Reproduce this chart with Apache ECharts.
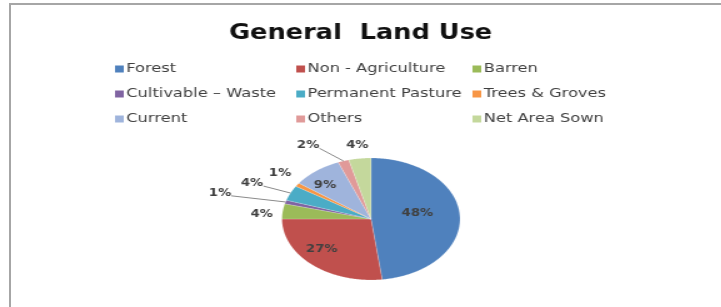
<!DOCTYPE html>
<html lang="en">
<head>
<meta charset="UTF-8" />
<title>General Land Use</title>
<script src="https://cdn.jsdelivr.net/npm/echarts@6/dist/echarts.min.js"></script>
<style>
  html, body { margin: 0; padding: 0; background: #fff; overflow: hidden; }
  #frame { position: absolute; left: 9px; top: 3px; width: 720px; height: 310px;
           border-left: 2px solid #a6a6a6; border-top: 2px solid #a6a6a6; }
  /* the source picture is stretched sideways, so the chart is drawn narrow and widened */
  #main { position: absolute; left: 0; top: 0; width: 577px; height: 307px;
          transform: scaleX(1.25); transform-origin: 0 0; }
</style>
</head>
<body>
<div id="frame"></div>
<div id="main"></div>
<script>
// data
var categories = ['Forest', 'Non - Agriculture', 'Barren', 'Cultivable \u2013 Waste',
  'Permanent Pasture', 'Trees & Groves', 'Current', 'Others', 'Net Area Sown'];
var shares = [48, 27, 4, 1, 4, 1, 9, 2, 4];
var colors = ['#4f81bd', '#c0504d', '#9bbb59', '#8064a2', '#4bacc6', '#f79646',
  '#9fb4dc', '#e09a99', '#c4d89c'];

// label placement per slice: [radius factor, angle shift in degrees]
var labelPlace = [[0.53, -7], [0.74, 7], [1.23, -3.5], [1.75, -2], [1.46, -1.4],
  [1.27, 2.2], [0.76, -5], [1.40, -12.3], [1.22, 0]];

// ellipse pie geometry (in the narrow, unstretched space)
var cx = 296.8, cy = 219, rx = 71.2, ry = 61;
var total = shares.reduce(function (a, b) { return a + b; }, 0);

function ptAt(deg, r) {
  var a = deg * Math.PI / 180;
  return [cx + rx * r * Math.sin(a), cy - ry * r * Math.cos(a)];
}

function renderSlice(params, api) {
  var idx = params.seriesIndex;
  var before = 0;
  for (var i = 0; i < idx; i++) before += shares[i];
  var start = before / total * 360;
  var end = (before + api.value(0)) / total * 360;
  var pts = [[cx, cy]];
  var n = Math.max(2, Math.ceil((end - start) / 0.5));
  for (var k = 0; k <= n; k++) pts.push(ptAt(start + (end - start) * k / n, 1));

  var mid = (start + end) / 2;
  var lp = labelPlace[idx];
  var pos = ptAt(mid + lp[1], lp[0]);
  var children = [{
    type: 'polygon',
    shape: { points: pts },
    style: { fill: colors[idx], stroke: 'rgba(255,255,255,0.35)', lineWidth: 0.5 }
  }];
  if (lp[0] > 1.3) {
    var edge = ptAt(mid, 1);
    children.push({
      type: 'polyline',
      shape: { points: [[pos[0] + 9, pos[1] + 3], edge] },
      style: { stroke: '#8a8a8a', lineWidth: 1, fill: null }
    });
  }
  children.push({
    type: 'text',
    style: {
      text: Math.round(api.value(0) / total * 100) + '%',
      x: pos[0], y: pos[1],
      align: 'center', verticalAlign: 'middle',
      fontFamily: 'DejaVu Sans', fontSize: 10.5, fontWeight: 'bold',
      fill: '#404040'
    }
  });
  return { type: 'group', children: children };
}

var series = categories.map(function (name, i) {
  return {
    type: 'custom',
    name: name,
    coordinateSystem: 'none',
    itemStyle: { color: colors[i] },
    data: [shares[i]],
    renderItem: renderSlice
  };
});

function legendCol(left, names) {
  return {
    orient: 'vertical',
    left: left, top: 57,
    icon: 'rect', itemWidth: 7, itemHeight: 7, itemGap: 11,
    selectedMode: false,
    data: names,
    textStyle: { color: '#404040', fontSize: 13, fontFamily: 'DejaVu Sans', lineHeight: 14, padding: [0, 0, 0, -3] }
  };
}

var myChart = echarts.init(document.getElementById('main'), null, { renderer: 'canvas' });
myChart.setOption({
  animation: false,
  backgroundColor: 'transparent',
  title: {
    text: 'General  Land Use',
    left: 'center', top: 18,
    padding: [5, 5, 5, 27],
    textStyle: { fontFamily: 'DejaVu Sans', fontSize: 20.5, fontWeight: 'bold', color: '#111' }
  },
  legend: [
    legendCol(87, [categories[0], categories[3], categories[6]]),
    legendCol(232, [categories[1], categories[4], categories[7]]),
    legendCol(373, [categories[2], categories[5], categories[8]])
  ],
  series: series
});
</script>
</body>
</html>
